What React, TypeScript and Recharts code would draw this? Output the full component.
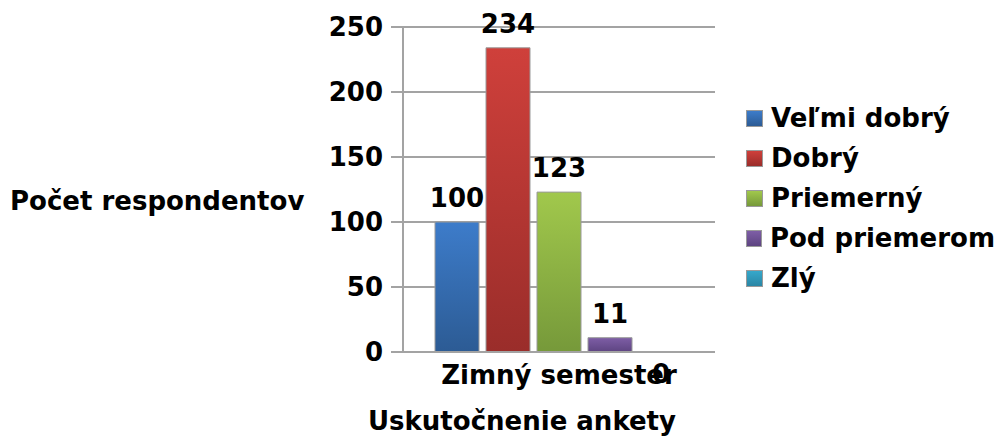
import { BarChart, Bar, XAxis, YAxis, CartesianGrid, Legend } from 'recharts'

const categories = ['Zimný semester']
const seriesNames = ['Veľmi dobrý', 'Dobrý', 'Priemerný', 'Pod priemerom', 'Zlý']
const seriesValues = [100, 234, 123, 11, 0]
const yTicks = [0, 50, 100, 150, 200, 250]
const seriesTop = ['#3d7cca', '#cf403b', '#a1c84c', '#7e5ea6', '#36a8cb']
const seriesBottom = ['#2c5b94', '#9a2d2a', '#76993a', '#5d4481', '#2a86a5']

const yTitle = 'Počet respondentov'
const xTitle = 'Uskutočnenie ankety'

const font = '"DejaVu Sans", Verdana, sans-serif'
const fontSize = 26
const gridColor = '#a3a3a3'
const legendWidth = 249

const chartData = categories.map((name) => {
  const row: Record<string, string | number> = { name }
  seriesNames.forEach((s, i) => {
    row['s' + i] = seriesValues[i]
  })
  return row
})

function ValueLabel(props: any) {
  const vb = props.viewBox || {}
  const x = Number(props.x ?? vb.x)
  const y = Number(props.y ?? vb.y)
  const width = Number(props.width ?? vb.width)
  const value = props.value
  if (!Number.isFinite(x) || !Number.isFinite(y)) return null
  const cx = x + width / 2
  // the zero bar has its label pushed under the axis, like the original
  const baseline = Number(value) === 0 ? y + 32 : y - 15
  return (
    <text
      x={cx}
      y={baseline}
      textAnchor="middle"
      fontFamily={font}
      fontWeight="bold"
      fontSize={fontSize}
      fill="#000"
    >
      {String(value)}
    </text>
  )
}

function LegendBox() {
  return (
    <div style={{ fontFamily: font, fontWeight: 'bold', fontSize, color: '#000' }}>
      {seriesNames.map((s, i) => (
        <div key={s} style={{ display: 'flex', alignItems: 'center', height: 40 }}>
          <span
            style={{
              display: 'inline-block',
              width: 15,
              height: 15,
              marginRight: 8,
              border: '1px solid #9a9a9a',
              background: `linear-gradient(${seriesTop[i]}, ${seriesBottom[i]})`,
            }}
          />
          <span style={{ lineHeight: '40px', whiteSpace: 'nowrap' }}>{s}</span>
        </div>
      ))}
    </div>
  )
}

export default function App() {
  return (
    <div style={{ position: 'absolute', left: 0, top: 0, width: 995, height: 443, background: '#fff' }}>
      <BarChart
        width={995}
        height={443}
        data={chartData}
        margin={{ top: 27, right: 280 - legendWidth, left: 0, bottom: 0 }}
        barSize={44}
        barGap={7}
      >
        <defs>
          {seriesNames.map((s, i) => (
            <linearGradient key={s} id={'grad' + i} x1="0" y1="0" x2="0" y2="1">
              <stop offset="0%" stopColor={seriesTop[i]} />
              <stop offset="100%" stopColor={seriesBottom[i]} />
            </linearGradient>
          ))}
        </defs>
        <CartesianGrid vertical={false} stroke={gridColor} strokeWidth={2} />
        <XAxis
          dataKey="name"
          height={91}
          axisLine={{ stroke: gridColor, strokeWidth: 2 }}
          tickLine={false}
          tickMargin={8}
          tick={{ fontFamily: font, fontWeight: 'bold', fontSize, fill: '#000' }}
          label={{
            content: () => (
              <text x={522} y={430} textAnchor="middle" fontFamily={font} fontWeight="bold" fontSize={fontSize} fill="#000">
                {xTitle}
              </text>
            ),
          }}
        />
        <YAxis
          width={403}
          domain={[0, 250]}
          ticks={yTicks}
          interval={0}
          axisLine={{ stroke: gridColor, strokeWidth: 2 }}
          tickLine={{ stroke: gridColor, strokeWidth: 2 }}
          tickSize={12}
          tickMargin={8}
          tick={{ fontFamily: font, fontWeight: 'bold', fontSize, fill: '#000' }}
          label={{
            content: () => (
              <text x={10} y={210} textAnchor="start" fontFamily={font} fontWeight="bold" fontSize={fontSize} fill="#000">
                {yTitle}
              </text>
            ),
          }}
        />
        <Legend
          layout="horizontal"
          verticalAlign="middle"
          align="right"
          content={() => <LegendBox />}
          wrapperStyle={{ left: 746, top: 98, width: legendWidth }}
        />
        {seriesNames.map((s, i) => (
          <Bar
            key={s}
            dataKey={'s' + i}
            name={s}
            fill={`url(#grad${i})`}
            stroke={seriesValues[i] === 0 ? 'none' : '#9a9a9a'}
            strokeWidth={1}
            minPointSize={1}
            label={ValueLabel}
            isAnimationActive={false}
          />
        ))}
      </BarChart>
    </div>
  )
}
